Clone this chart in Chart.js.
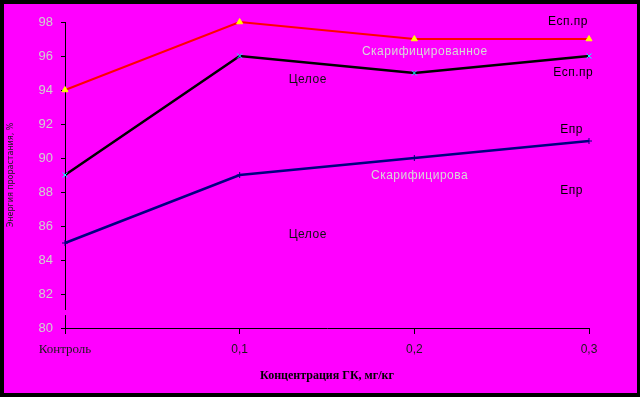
<!DOCTYPE html>
<html>
<head>
<meta charset="utf-8">
<script src="https://cdn.jsdelivr.net/npm/chart.js@4/dist/chart.umd.min.js"></script>
<style>
  html, body { margin: 0; padding: 0; background: #000; }
  #wrap { width: 640px; height: 397px; position: relative; }
</style>
</head>
<body>
<div id="wrap"><canvas id="c" width="640" height="397"></canvas></div>
<script>
// ---- data ----
const categories = ['Контроль', '0,1', '0,2', '0,3'];
const seriesRed = [94, 98, 97, 97];     // Есп.пр – скарифицированное
const seriesBlack = [89, 96, 95, 96];   // Есп.пр – целое
const seriesBlue = [85, 89, 90, 91];    // Епр
const yTicks = [80, 82, 84, 86, 88, 90, 92, 94, 96, 98];
const xTitle = 'Концентрация ГК, мг/кг';
const yTitle = 'Энергия прорастания, %';
// text annotations: [text, category position, value, colour]
const noteTexts = ['Есп.пр', 'Скарифицированное', 'Есп.пр', 'Целое', 'Епр', 'Скарифицирова', 'Епр', 'Целое'];
const noteX = [2.88, 2.06, 2.91, 1.39, 2.90, 2.03, 2.90, 1.39];
const noteY = [98.0, 96.24, 95.0, 94.6, 91.65, 88.94, 88.06, 85.47];
const noteColors = ['#000', '#d8d8d8', '#000', '#111', '#000', '#d8d8d8', '#000', '#111'];

const bgPlugin = {
  id: 'bg',
  beforeDraw(chart) {
    const ctx = chart.ctx;
    ctx.save();
    ctx.fillStyle = '#000';
    ctx.fillRect(0, 0, chart.width, chart.height);
    ctx.fillStyle = '#ff00ff';
    ctx.fillRect(4, 4, 633, 389);
    ctx.restore();
  }
};

const notesPlugin = {
  id: 'notes',
  afterDraw(chart) {
    const ctx = chart.ctx;
    const xs = chart.scales.x, ys = chart.scales.y;
    ctx.save();
    // axis break on the y axis
    const yb1 = ys.getPixelForValue(81.06), yb2 = ys.getPixelForValue(80.76);
    ctx.fillStyle = '#ff00ff';
    ctx.fillRect(xs.left - 2, yb1, 4, yb2 - yb1);
    ctx.font = '12px "Liberation Sans", Arial, sans-serif';
    try { ctx.letterSpacing = '0.5px'; } catch (e) {}
    ctx.textAlign = 'center';
    ctx.textBaseline = 'middle';
    noteTexts.forEach((t, i) => {
      ctx.fillStyle = noteColors[i];
      ctx.fillText(t, xs.getPixelForValue(noteX[i]), ys.getPixelForValue(noteY[i]));
    });
    ctx.restore();
  }
};

new Chart(document.getElementById('c'), {
  type: 'line',
  data: {
    labels: categories,
    datasets: [
      {
        label: 'Скарифицированное',
        data: seriesRed,
        borderColor: '#ff0000',
        borderWidth: 2,
        pointStyle: 'triangle',
        pointRadius: 3.5,
        pointBackgroundColor: '#ffff00',
        pointBorderColor: '#ffff00',
        pointBorderWidth: 1,
        tension: 0,
        clip: false
      },
      {
        label: 'Целое',
        data: seriesBlack,
        borderColor: '#000000',
        borderWidth: 2.5,
        pointStyle: 'crossRot',
        pointRadius: 3.5,
        pointBorderColor: '#00ffff',
        pointBorderWidth: 1,
        tension: 0,
        clip: false
      },
      {
        label: 'Епр',
        data: seriesBlue,
        borderColor: '#000080',
        borderWidth: 2.5,
        pointStyle: 'cross',
        pointRadius: 3,
        pointBorderColor: '#000080',
        pointBorderWidth: 1,
        tension: 0,
        clip: false
      }
    ]
  },
  options: {
    responsive: false,
    animation: false,
    devicePixelRatio: 1,
    layout: { padding: { left: 4, right: 51, top: 22, bottom: 4 } },
    plugins: { legend: { display: false }, tooltip: { enabled: false } },
    scales: {
      x: {
        type: 'category',
        offset: false,
        grid: { drawOnChartArea: false, drawTicks: true, tickLength: 6, color: '#000', lineWidth: 1 },
        border: { display: true, color: '#000', width: 1 },
        ticks: {
          color: '#1a1a1a',
          padding: 8,
          maxRotation: 0,
          autoSkip: false,
          font: (ctx) => ctx.index === 0
            ? { family: '"Liberation Serif", "Times New Roman", serif', size: 13 }
            : { family: '"Liberation Sans", Arial, sans-serif', size: 12 }
        },
        title: {
          display: true,
          text: xTitle,
          color: '#000',
          font: { family: '"Liberation Serif", "Times New Roman", serif', size: 12, weight: 'bold' },
          padding: { top: 0, bottom: 10 }
        },
        afterFit(scale) { scale.height = 65; }
      },
      y: {
        min: 80,
        max: 98,
        afterBuildTicks(scale) { scale.ticks = yTicks.map(v => ({ value: v })); },
        grid: { drawOnChartArea: false, drawTicks: true, tickLength: 4, color: '#000' },
        border: { display: true, color: '#000', width: 1 },
        ticks: {
          color: '#d0d0d0',
          padding: 8,
          font: { family: '"Liberation Sans", Arial, sans-serif', size: 13 }
        },
        title: {
          display: true,
          text: yTitle,
          color: '#1a1a1a',
          font: { family: '"DejaVu Sans", sans-serif', size: 8 },
          padding: { top: 2, bottom: 0 }
        },
        afterFit(scale) { scale.width = 61; }
      }
    }
  },
  plugins: [bgPlugin, notesPlugin]
});
</script>
</body>
</html>
